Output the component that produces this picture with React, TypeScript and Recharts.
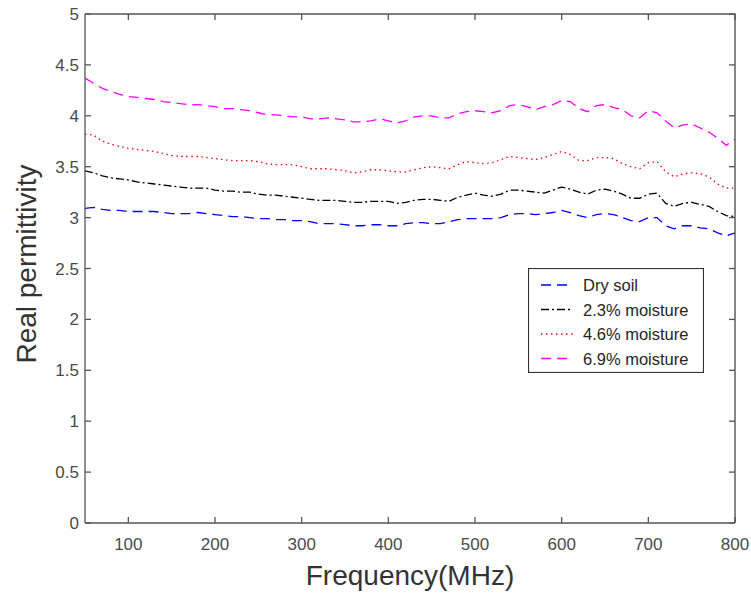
import { LineChart, Line, XAxis, YAxis, Legend } from "recharts";

// frequency samples (MHz)
const freq = [
  50, 60, 70, 80, 90, 100, 110, 120, 130, 140, 150, 160, 170, 180, 190, 200,
  210, 220, 230, 240, 250, 260, 270, 280, 290, 300, 310, 320, 330, 340, 350,
  360, 370, 380, 390, 400, 410, 420, 430, 440, 450, 460, 470, 480, 490, 500,
  510, 520, 530, 540, 550, 560, 570, 580, 590, 600, 610, 620, 630, 640, 650,
  660, 670, 680, 690, 700, 710, 720, 730, 740, 750, 760, 770, 780, 790, 800,
];

const drySoil = [
  3.09, 3.1, 3.08, 3.07, 3.07, 3.06, 3.06, 3.06, 3.06, 3.05, 3.04, 3.04, 3.04,
  3.05, 3.04, 3.03, 3.02, 3.01, 3.01, 3.0, 2.99, 2.99, 2.98, 2.98, 2.97, 2.97,
  2.96, 2.94, 2.94, 2.94, 2.93, 2.92, 2.92, 2.93, 2.93, 2.92, 2.92, 2.94, 2.95,
  2.95, 2.94, 2.94, 2.96, 2.98, 2.99, 2.99, 2.99, 2.99, 3.0, 3.03, 3.04, 3.04,
  3.03, 3.04, 3.05, 3.07, 3.05, 3.02, 3.0, 3.03, 3.04, 3.03, 3.0, 2.97, 2.96,
  3.0, 3.0, 2.92, 2.89, 2.92, 2.92, 2.9, 2.89, 2.85, 2.82, 2.85,
];

const moisture23 = [
  3.46, 3.44, 3.41, 3.39, 3.38, 3.37, 3.35, 3.34, 3.33, 3.32, 3.31, 3.3, 3.29,
  3.29, 3.29, 3.27, 3.26, 3.26, 3.25, 3.25, 3.23, 3.22, 3.22, 3.21, 3.2, 3.19,
  3.18, 3.17, 3.17, 3.17, 3.16, 3.15, 3.15, 3.16, 3.16, 3.16, 3.14, 3.15, 3.17,
  3.18, 3.18, 3.17, 3.16, 3.2, 3.22, 3.24, 3.22, 3.21, 3.23, 3.27, 3.27, 3.26,
  3.25, 3.24, 3.27, 3.3, 3.28, 3.25, 3.23, 3.27, 3.28, 3.26, 3.23, 3.19, 3.19,
  3.23, 3.24, 3.14, 3.11, 3.14, 3.15, 3.13, 3.11, 3.06, 3.02, 3.01,
];

const moisture46 = [
  3.82, 3.81, 3.75, 3.72, 3.7, 3.68, 3.67, 3.66, 3.65, 3.63, 3.61, 3.6, 3.6,
  3.6, 3.59, 3.58, 3.57, 3.56, 3.56, 3.56, 3.55, 3.53, 3.52, 3.52, 3.52, 3.5,
  3.48, 3.48, 3.48, 3.47, 3.46, 3.44, 3.45, 3.47, 3.47, 3.46, 3.45, 3.45, 3.47,
  3.49, 3.5, 3.49, 3.48, 3.52, 3.55, 3.54, 3.53, 3.54, 3.57, 3.6, 3.59, 3.58,
  3.57, 3.59, 3.62, 3.65, 3.62, 3.56, 3.56, 3.59, 3.59, 3.58, 3.53, 3.5, 3.48,
  3.54, 3.55, 3.45, 3.4, 3.43, 3.44, 3.43, 3.4, 3.33, 3.29, 3.29,
];

const moisture69 = [
  4.37, 4.32, 4.27, 4.24, 4.21, 4.19, 4.18, 4.17, 4.16, 4.14, 4.13, 4.12, 4.11,
  4.11, 4.1, 4.09, 4.07, 4.07, 4.06, 4.05, 4.03, 4.01, 4.01, 4.0, 3.99, 3.99,
  3.97, 3.97, 3.98, 3.97, 3.96, 3.94, 3.94, 3.95, 3.97, 3.95, 3.93, 3.95, 3.99,
  4.0, 4.0, 3.98, 3.98, 4.02, 4.04, 4.05, 4.04, 4.03, 4.05, 4.1, 4.11, 4.09,
  4.06, 4.09, 4.11, 4.15, 4.14, 4.07, 4.04, 4.1, 4.11, 4.08, 4.06, 4.0, 3.98,
  4.05, 4.03, 3.95, 3.88, 3.91, 3.92, 3.88, 3.84, 3.78, 3.71, 3.77,
];

const xTicks = [100, 200, 300, 400, 500, 600, 700, 800];
const yTicks = [0, 0.5, 1, 1.5, 2, 2.5, 3, 3.5, 4, 4.5, 5];

const seriesNames = ["Dry soil", "2.3% moisture", "4.6% moisture", "6.9% moisture"];

const data = freq.map((f, i) => ({
  f,
  dry: drySoil[i],
  m23: moisture23[i],
  m46: moisture46[i],
  m69: moisture69[i],
}));

const FONT = "'Liberation Sans', Arial, Helvetica, sans-serif";
const AXIS = "#555";
const X_MIN = 50;
const X_MAX = 800;
const Y_MIN = 0;
const Y_MAX = 5;

// chart geometry (plot area follows from these margins / axis sizes)
const W = 751;
const H = 599;
const M_TOP = 14;
const M_RIGHT = 16;
const Y_AXIS_W = 85;
const X_AXIS_H = 76;
const PLOT_L = Y_AXIS_W;
const PLOT_R = W - M_RIGHT;
const PLOT_T = M_TOP;
const PLOT_B = H - X_AXIS_H;

const legendItems = [
  { name: seriesNames[0], color: "#0000ff", dash: "10 6" },
  { name: seriesNames[1], color: "#000000", dash: "8 3 2 3" },
  { name: seriesNames[2], color: "#ff0000", dash: "1.5 3.5" },
  { name: seriesNames[3], color: "#ff00ff", dash: "10 6" },
];

function LegendBox() {
  return (
    <svg width={176} height={105} style={{ display: "block" }}>
      <rect x={0.5} y={0.5} width={175} height={104} fill="#fff" stroke="#333" strokeWidth={1.2} />
      {legendItems.map((item, i) => {
        const cy = 17 + i * 24.5;
        return (
          <g key={item.name}>
            <line x1={13} x2={45} y1={cy} y2={cy} stroke={item.color} strokeWidth={1.3} strokeDasharray={item.dash} />
            <text x={55} y={cy + 6} fontFamily={FONT} fontSize={16.5} fill="#262626">
              {item.name}
            </text>
          </g>
        );
      })}
    </svg>
  );
}

function YTitle() {
  return (
    <text
      x={36}
      y={264}
      transform="rotate(-90 36 264)"
      textAnchor="middle"
      fontFamily={FONT}
      fontSize={28}
      fill="#333"
    >
      Real permittivity
    </text>
  );
}

// top/right sides of the axes box with inward ticks (MATLAB "box on"), laid over the chart
function BoxOverlay() {
  const sx = (v: number) => PLOT_L + ((v - X_MIN) / (X_MAX - X_MIN)) * (PLOT_R - PLOT_L);
  const sy = (v: number) => PLOT_B - ((v - Y_MIN) / (Y_MAX - Y_MIN)) * (PLOT_B - PLOT_T);
  return (
    <svg
      width={W}
      height={H}
      style={{ position: "absolute", left: 0, top: 0, pointerEvents: "none" }}
    >
      <path d={`M${PLOT_L},${PLOT_T}H${PLOT_R}V${PLOT_B}`} fill="none" stroke={AXIS} strokeWidth={1.4} />
      {xTicks.map((t) => (
        <line key={`tx-${t}`} x1={sx(t)} x2={sx(t)} y1={PLOT_T} y2={PLOT_T + 6} stroke={AXIS} strokeWidth={1.3} />
      ))}
      {yTicks.map((t) => (
        <line key={`ty-${t}`} x1={PLOT_R} x2={PLOT_R - 6} y1={sy(t)} y2={sy(t)} stroke={AXIS} strokeWidth={1.3} />
      ))}
    </svg>
  );
}

export default function App() {
  const tickStyle = { fontFamily: FONT, fontSize: 17, fill: "#4a4a4a" };
  return (
    <div style={{ position: "absolute", left: 0, top: 0, width: W, height: H, background: "#fff" }}>
      <LineChart width={W} height={H} data={data} margin={{ top: M_TOP, right: M_RIGHT, bottom: 0, left: 0 }}>
        <XAxis
          dataKey="f"
          type="number"
          domain={[X_MIN, X_MAX]}
          ticks={xTicks}
          height={X_AXIS_H}
          tickSize={-6}
          tickMargin={21}
          stroke={AXIS}
          strokeWidth={1.3}
          tick={tickStyle}
          label={{
            value: "Frequency(MHz)",
            position: "insideBottom",
            offset: 14,
            style: { fontFamily: FONT, fontSize: 28, fill: "#333" },
          }}
        />
        <YAxis
          type="number"
          domain={[Y_MIN, Y_MAX]}
          ticks={yTicks}
          width={Y_AXIS_W}
          tickSize={-6}
          tickMargin={12}
          stroke={AXIS}
          strokeWidth={1.3}
          tick={tickStyle}
          label={<YTitle />}
        />
        <Legend
          layout="horizontal"
          verticalAlign="middle"
          align="center"
          content={() => <LegendBox />}
          wrapperStyle={{ left: 528, top: 268, width: 176, height: 105 }}
        />
        <Line dataKey="dry" name={seriesNames[0]} stroke="#0000ff" strokeWidth={1.3} strokeDasharray="10 6" dot={false} isAnimationActive={false} />
        <Line dataKey="m23" name={seriesNames[1]} stroke="#000000" strokeWidth={1.3} strokeDasharray="8 3 2 3" dot={false} isAnimationActive={false} />
        <Line dataKey="m46" name={seriesNames[2]} stroke="#ff0000" strokeWidth={1.3} strokeDasharray="1.5 3.5" dot={false} isAnimationActive={false} />
        <Line dataKey="m69" name={seriesNames[3]} stroke="#ff00ff" strokeWidth={1.3} strokeDasharray="10 6" dot={false} isAnimationActive={false} />
      </LineChart>
      <BoxOverlay />
    </div>
  );
}
